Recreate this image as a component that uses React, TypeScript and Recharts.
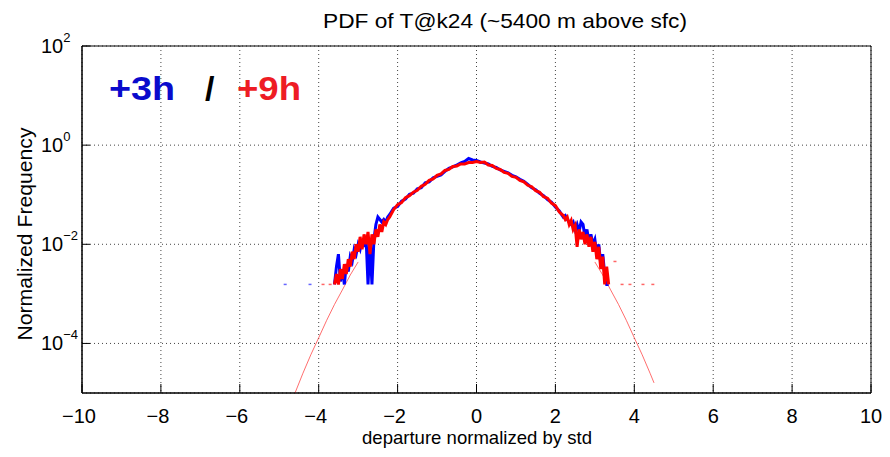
import React from "react";
import {
  ComposedChart,
  Line,
  Scatter,
  XAxis,
  YAxis,
  CartesianGrid,
  ReferenceArea,
} from "recharts";

// ---------- data ----------
const xs = [
  -3.6, -3.55, -3.5, -3.45, -3.4, -3.35, -3.3, -3.25, -3.2, -3.15, -3.1, -3.05, -3.0, -2.95, -2.9,
  -2.85, -2.8, -2.75, -2.7, -2.65, -2.6, -2.55, -2.5, -2.45, -2.4, -2.35, -2.3, -2.25, -2.2,
  -2.1, -2.0, -1.9, -1.8, -1.7, -1.6, -1.5, -1.4, -1.3, -1.2, -1.1, -1.0, -0.9, -0.8, -0.7, -0.6,
  -0.5, -0.4, -0.3, -0.2, -0.1, 0.0, 0.1, 0.2, 0.3, 0.4, 0.5, 0.6, 0.7, 0.8, 0.9, 1.0, 1.1, 1.2,
  1.3, 1.4, 1.5, 1.6, 1.7, 1.8, 1.9, 2.0, 2.1,
  2.2, 2.25, 2.3, 2.35, 2.4, 2.45, 2.5, 2.55, 2.6, 2.65, 2.7, 2.75, 2.8, 2.85, 2.9, 2.95, 3.0,
  3.05, 3.1, 3.15, 3.2, 3.25, 3.3, 3.35,
];

// log10 of normalized frequency, +3h (blue)
const blueLog10 = [
  -2.81, -2.45, -2.2, -2.75, -2.5, -2.81, -2.4, -2.55, -2.25, -2.35, -2.1, -2.2, -2.0, -2.1, -1.9,
  -2.05, -1.85, -2.81, -2.0, -2.81, -1.9, -1.6, -1.45, -1.5, -1.55, -1.5, -1.55, -1.45, -1.4,
  -1.27, -1.24, -1.13, -1.09, -0.99, -0.97, -0.88, -0.86, -0.76, -0.74, -0.66, -0.63, -0.6, -0.53,
  -0.47, -0.44, -0.4, -0.36, -0.33, -0.27, -0.3, -0.31, -0.34, -0.36, -0.38, -0.43, -0.45, -0.5,
  -0.53, -0.56, -0.61, -0.64, -0.69, -0.73, -0.79, -0.86, -0.9, -0.97, -1.02, -1.1, -1.15, -1.25,
  -1.33,
  -1.45, -1.42, -1.5, -1.55, -1.6, -1.55, -1.7, -1.6, -1.75, -1.55, -1.6, -1.85, -1.7, -1.95, -1.8,
  -2.0, -1.9, -2.2, -2.0, -2.4, -2.2, -2.6, -2.81, -2.81,
];

// log10 of normalized frequency, +9h (red)
const redLog10 = [
  -2.81, -2.6, -2.81, -2.5, -2.7, -2.4, -2.6, -2.3, -2.45, -2.15, -2.3, -2.0, -2.15, -1.85, -2.1,
  -1.8, -2.0, -1.75, -2.2, -1.8, -2.0, -1.7, -1.85, -1.6, -1.75, -1.55, -1.6, -1.5, -1.45,
  -1.3, -1.2, -1.16, -1.06, -1.02, -0.95, -0.91, -0.83, -0.79, -0.71, -0.68, -0.61, -0.58, -0.51,
  -0.49, -0.43, -0.42, -0.38, -0.38, -0.35, -0.35, -0.33, -0.35, -0.34, -0.4, -0.41, -0.47, -0.49,
  -0.55, -0.57, -0.63, -0.65, -0.71, -0.74, -0.81, -0.84, -0.92, -0.95, -1.04, -1.07, -1.17, -1.22,
  -1.35,
  -1.42, -1.5, -1.45, -1.6, -1.52, -1.7, -1.62, -2.05, -1.7, -1.9, -1.75, -2.0, -1.8, -2.05, -1.85,
  -2.15, -1.95, -2.3, -2.05, -2.5, -2.25, -2.81, -2.45, -2.81,
];

// thin reference curve, visible only in the two tails
const refLeftX = [-4.6, -4.4, -4.2, -4.0, -3.8, -3.6, -3.4, -3.2, -3.0];
const refLeftY = [1.0e-5, 2.5e-5, 5.9e-5, 1.3e-4, 2.9e-4, 6.1e-4, 1.2e-3, 2.4e-3, 4.4e-3];
const refRightX = [3.0, 3.2, 3.4, 3.6, 3.8, 4.0, 4.2, 4.4, 4.5];
const refRightY = [4.4e-3, 2.4e-3, 1.2e-3, 6.1e-4, 2.9e-4, 1.3e-4, 5.9e-5, 2.5e-5, 1.6e-5];

// isolated points at the lowest count level
const blueDotsX = [-4.85, -4.22];
const blueDotsY = [0.00155, 0.00155];
const redDotsX = [-3.89, -3.71, 3.51, 3.69, 3.89, 4.22, 4.47];
const redDotsY = [0.00155, 0.00155, 0.0045, 0.00155, 0.00155, 0.00155, 0.00155];

const xTicks = [-10, -8, -6, -4, -2, 0, 2, 4, 6, 8, 10];
const yTicks = [1e-4, 1e-2, 1, 100];

const title = "PDF of T@k24 (~5400 m above sfc)";
const xLabel = "departure normalized by std";
const yLabel = "Normalized Frequency";

// ---------- derived tables ----------
const blueData = xs.map((x, i) => ({ x, y: Math.pow(10, blueLog10[i]) }));
const redData = xs.map((x, i) => ({ x, y: Math.pow(10, redLog10[i]) }));
const refLeft = refLeftX.map((x, i) => ({ x, y: refLeftY[i] }));
const refRight = refRightX.map((x, i) => ({ x, y: refRightY[i] }));
const blueDots = blueDotsX.map((x, i) => ({ x, y: blueDotsY[i] }));
const redDots = redDotsX.map((x, i) => ({ x, y: redDotsY[i] }));

const FONT = "'Liberation Sans', Arial, Helvetica, sans-serif";
const W = 874;
const H = 441;

const fmtNum = (v: number) => (v < 0 ? "\u2212" + Math.abs(v) : String(v));

const BottomTick = (props: any) => {
  const { x, y, payload } = props;
  const v = payload.value;
  return (
    <g>
      <line x1={x} y1={y} x2={x} y2={y - 9} stroke="#000" strokeWidth={1} />
      <text
        x={x}
        y={y + 30}
        dx={v < 0 ? -3 : 0}
        textAnchor="middle"
        fontFamily={FONT}
        fontSize={20}
        fill="#000"
      >
        {fmtNum(v)}
      </text>
    </g>
  );
};

const TopTick = (props: any) => {
  const { x, y } = props;
  return <line x1={x} y1={y} x2={x} y2={y + 6} stroke="#000" strokeWidth={1} />;
};

const LeftTick = (props: any) => {
  const { x, y, payload } = props;
  const e = Math.round(Math.log10(payload.value));
  return (
    <g>
      <line x1={x} y1={y} x2={x + 8} y2={y} stroke="#000" strokeWidth={1} />
      <text x={x - 41} y={y + 7} fontFamily={FONT} fontSize={20} fill="#000">
        10
        <tspan dy={-11} fontSize={13}>
          {fmtNum(e)}
        </tspan>
      </text>
    </g>
  );
};

const RightTick = (props: any) => {
  const { x, y } = props;
  return <line x1={x} y1={y} x2={x - 8} y2={y} stroke="#000" strokeWidth={1} />;
};

const blueDot = (p: any) => (
  <rect x={p.cx - 1.5} y={p.cy - 0.75} width={3} height={1.5} fill="#6666ff" />
);
const redDot = (p: any) => (
  <rect x={p.cx - 1.5} y={p.cy - 0.75} width={3} height={1.5} fill="#ff6666" />
);

export default function App() {
  return (
    <div style={{ position: "relative", width: W, height: H }}>
      <ComposedChart
        width={W}
        height={H}
        margin={{ top: 38, right: 11, bottom: 0, left: 0 }}
      >
        <XAxis
          xAxisId={0}
          dataKey="x"
          type="number"
          domain={[-10, 10]}
          ticks={xTicks}
          interval={0}
          allowDataOverflow
          height={56}
          tickSize={0}
          tickMargin={0}
          tickLine={false}
          axisLine={{ stroke: "#000", strokeWidth: 1 }}
          tick={<BottomTick />}
        />
        <XAxis
          xAxisId="top"
          orientation="top"
          dataKey="x"
          type="number"
          domain={[-10, 10]}
          ticks={xTicks}
          interval={0}
          allowDataOverflow
          height={0}
          tickSize={0}
          tickMargin={0}
          tickLine={false}
          axisLine={false}
          tick={<TopTick />}
        />
        <YAxis
          yAxisId={0}
          scale="log"
          type="number"
          domain={[1e-5, 100]}
          ticks={yTicks}
          interval={0}
          allowDataOverflow
          width={74}
          tickSize={0}
          tickMargin={0}
          tickLine={false}
          axisLine={{ stroke: "#000", strokeWidth: 1 }}
          tick={<LeftTick />}
        />
        <YAxis
          yAxisId="right"
          orientation="right"
          scale="log"
          type="number"
          domain={[1e-5, 100]}
          ticks={yTicks}
          interval={0}
          allowDataOverflow
          width={0}
          tickSize={0}
          tickMargin={0}
          tickLine={false}
          axisLine={false}
          tick={<RightTick />}
        />
        <CartesianGrid stroke="#444" strokeDasharray="1 3" strokeWidth={1} />
        <Line
          data={refLeft}
          dataKey="y"
          type="linear"
          stroke="#ff3030"
          strokeOpacity={0.7}
          strokeWidth={1}
          dot={false}
          activeDot={false}
          isAnimationActive={false}
        />
        <Line
          data={refRight}
          dataKey="y"
          type="linear"
          stroke="#ff3030"
          strokeOpacity={0.7}
          strokeWidth={1}
          dot={false}
          activeDot={false}
          isAnimationActive={false}
        />
        <Line
          data={blueData}
          dataKey="y"
          type="linear"
          stroke="#0000ff"
          strokeWidth={3}
          strokeLinejoin="miter"
          dot={false}
          activeDot={false}
          isAnimationActive={false}
        />
        <Line
          data={redData}
          dataKey="y"
          type="linear"
          stroke="#ff0000"
          strokeWidth={3}
          strokeLinejoin="miter"
          dot={false}
          activeDot={false}
          isAnimationActive={false}
        />
        <Scatter data={blueDots} dataKey="y" shape={blueDot} isAnimationActive={false} />
        <Scatter data={redDots} dataKey="y" shape={redDot} isAnimationActive={false} />
        <ReferenceArea
          x1={-10}
          x2={10}
          y1={1e-5}
          y2={100}
          fill="none"
          fillOpacity={0}
          stroke="#000"
          strokeWidth={1}
          ifOverflow="visible"
        />
      </ComposedChart>
      <svg
        width={W}
        height={H}
        style={{ position: "absolute", left: 0, top: 0, pointerEvents: "none", overflow: "visible" }}
      >
        <text
          x={497}
          y={20}
          textAnchor="middle"
          fontFamily={FONT}
          fontSize={21}
          fill="#000"
          textLength={364}
          lengthAdjust="spacingAndGlyphs"
        >
          {title}
        </text>
        <text
          x={469}
          y={436}
          textAnchor="middle"
          fontFamily={FONT}
          fontSize={19}
          fill="#000"
          textLength={230}
          lengthAdjust="spacingAndGlyphs"
        >
          {xLabel}
        </text>
        <text
          x={24}
          y={226}
          textAnchor="middle"
          fontFamily={FONT}
          fontSize={21}
          fill="#000"
          textLength={213}
          lengthAdjust="spacingAndGlyphs"
          transform="rotate(-90 24 226)"
        >
          {yLabel}
        </text>
        <text
          x={101}
          y={92}
          fontFamily={FONT}
          fontSize={34}
          fontWeight="bold"
          fill="#0a0acc"
          textLength={66}
          lengthAdjust="spacingAndGlyphs"
        >
          +3h
        </text>
        <text x={197} y={92} fontFamily={FONT} fontSize={34} fontWeight="bold" fill="#000">
          /
        </text>
        <text
          x={229}
          y={92}
          fontFamily={FONT}
          fontSize={34}
          fontWeight="bold"
          fill="#ee1c24"
          textLength={64}
          lengthAdjust="spacingAndGlyphs"
        >
          +9h
        </text>
      </svg>
    </div>
  );
}
